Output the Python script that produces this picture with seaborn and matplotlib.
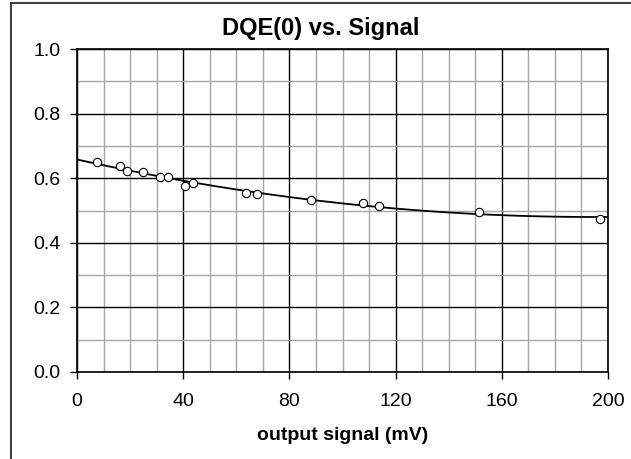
import numpy as np
import matplotlib
matplotlib.use("Agg")
import matplotlib.pyplot as plt
from matplotlib.lines import Line2D
import seaborn as sns
import pandas as pd

# values
signal_mv = [7.4, 16.2, 19.0, 24.9, 31.4, 34.2, 40.5, 43.6, 63.8, 67.9,
             88.3, 107.9, 113.9, 151.5, 196.9]
dqe0 = [0.650, 0.638, 0.623, 0.618, 0.604, 0.604, 0.575, 0.585, 0.553, 0.551,
        0.533, 0.524, 0.515, 0.495, 0.474]
x_major = [0, 40, 80, 120, 160, 200]
y_major = [0.0, 0.2, 0.4, 0.6, 0.8, 1.0]

df = pd.DataFrame({"signal": signal_mv, "dqe": dqe0})

sns.set_style("white")
plt.rcParams["font.family"] = ["Liberation Sans", "DejaVu Sans"]
plt.rcParams["text.color"] = "black"
plt.rcParams["axes.labelcolor"] = "black"
plt.rcParams["xtick.color"] = "black"
plt.rcParams["ytick.color"] = "black"

fig = plt.figure(figsize=(6.31, 4.59), dpi=100)
ax = fig.add_axes([77 / 631, 1 - 372 / 459, (608 - 77) / 631, (372 - 49) / 459])

ax.set_xlim(0, 200)
ax.set_ylim(0, 1.0)
ax.set_xticks(x_major)
ax.set_xticks(np.arange(0, 201, 10), minor=True)
ax.set_yticks(y_major)
ax.set_yticks(np.arange(0, 1.01, 0.1), minor=True)
ax.set_yticklabels(["%.1f" % v for v in y_major])
ax.grid(which="minor", color="#a6a6a6", lw=1.0)
ax.grid(which="major", color="black", lw=1.0)
ax.set_axisbelow(True)

sns.regplot(data=df, x="signal", y="dqe", order=2, ci=None, truncate=False, ax=ax,
            scatter_kws=dict(facecolors="white", edgecolors="black", s=36,
                             linewidths=0.8, zorder=4, alpha=1),
            line_kws=dict(color="black", lw=1.3, zorder=3))

for s in ax.spines.values():
    s.set_visible(True)
    s.set_color("black")
    s.set_linewidth(1.2)
ax.tick_params(which="major", direction="out", length=5, width=1, labelsize=14,
               bottom=True, left=True)
ax.tick_params(axis="x", pad=10)
ax.tick_params(axis="y", pad=7)
ax.tick_params(which="minor", length=0)

# title is centred on the whole chart area, not the plot area
ax.set_title("DQE(0) vs. Signal", fontsize=17, fontweight="bold", pad=10,
             x=(321 - 77) / 531)
ax.set_xlabel("output signal (mV)", fontsize=14, fontweight="bold", labelpad=12)
ax.set_ylabel("")

# chart-area border (left and top edges visible)
fig.add_artist(Line2D([11 / 631, 11 / 631], [0, 1 - 3 / 459], transform=fig.transFigure,
                      color="#404040", lw=1.5))
fig.add_artist(Line2D([11 / 631, 1], [1 - 3 / 459, 1 - 3 / 459], transform=fig.transFigure,
                      color="#404040", lw=1.5))

fig.savefig("out.png", dpi=100)
